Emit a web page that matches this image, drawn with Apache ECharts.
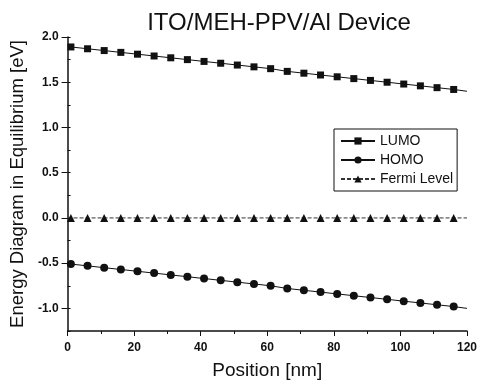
<!DOCTYPE html>
<html><head><meta charset="utf-8">
<script src="https://cdn.jsdelivr.net/npm/echarts@6/dist/echarts.min.js"></script>
<style>html,body{margin:0;padding:0;background:#fff}#c{width:480px;height:385px}</style>
</head><body><div id="c"></div>
<script>
// Positions of the markers [nm]
const positions = [1,6,11,16,21,26,31,36,41,46,51,56,61,66,71,76,81,86,91,96,101,106,111,116];
const lumo = [1.89,1.87,1.85,1.83,1.81,1.79,1.77,1.75,1.73,1.71,1.69,1.67,1.65,1.62,1.60,1.58,1.56,1.54,1.52,1.50,1.48,1.46,1.44,1.42];
const homo = [-0.51,-0.53,-0.55,-0.57,-0.59,-0.61,-0.63,-0.65,-0.67,-0.69,-0.71,-0.73,-0.75,-0.78,-0.80,-0.82,-0.84,-0.86,-0.88,-0.90,-0.92,-0.94,-0.96,-0.98];
const fermi = [0,0,0,0,0,0,0,0,0,0,0,0,0,0,0,0,0,0,0,0,0,0,0,0];
// line end points (no marker) at x = 0 and x = 120
const lumoEnds = [1.90, 1.40];
const homoEnds = [-0.50, -1.00];
const fermiEnds = [0, 0];
const xEnds = [0, 120];
const yLabels = [-1.0,-0.5,0.0,0.5,1.0,1.5,2.0];

function build(vals, ends){
  const d = [{value:[xEnds[0], ends[0]], symbol:'none'}];
  positions.forEach((x,i)=>d.push([x, vals[i]]));
  d.push({value:[xEnds[1], ends[1]], symbol:'none'});
  return d;
}
const font = 'Liberation Sans, Arial, sans-serif';
const chart = echarts.init(document.getElementById('c'), null, {renderer:'canvas'});
chart.setOption({
  animation:false,
  backgroundColor:'#fff',
  title:{text:'ITO/MEH-PPV/Al Device', left:274, textAlign:'center', top:6,
    textStyle:{fontFamily:font, fontSize:24, fontWeight:'normal', color:'#111'}},
  legend:{orient:'vertical', left:334, top:129, itemWidth:34, itemHeight:9, itemGap:5,
    padding:[5,4,5,6], borderColor:'#111', borderWidth:1,
    textStyle:{fontFamily:font, fontSize:14, color:'#111'},
    data:['LUMO','HOMO','Fermi Level']},
  grid:{left:64, right:11, top:37, bottom:50, containLabel:false},
  xAxis:{type:'value', min:0, max:120, interval:20,
    name:'Position [nm]', nameLocation:'middle', nameGap:30,
    nameTextStyle:{fontFamily:font, fontSize:19, color:'#111'},
    axisLine:{onZero:false, lineStyle:{color:'#111', width:1.5}},
    axisTick:{inside:false, length:5, lineStyle:{color:'#111'}},
    minorTick:{show:true, splitNumber:2, length:3, lineStyle:{color:'#111'}},
    axisLabel:{fontFamily:font, fontSize:12, fontWeight:'bold', color:'#111', margin:11},
    splitLine:{show:false}},
  yAxis:[{type:'value', min:-1.25, max:2.0,
    name:'Energy Diagram in Equilibrium [eV]', nameLocation:'middle', nameGap:40,
    nameTextStyle:{fontFamily:font, fontSize:18.5, color:'#111'},
    axisLine:{onZero:false, lineStyle:{color:'#111', width:1.5}},
    axisTick:{inside:false, length:6, customValues:yLabels, lineStyle:{color:'#111'}},
    axisLabel:{fontFamily:font, fontSize:12, fontWeight:'bold', color:'#111', margin:9,
      customValues:yLabels, formatter:v=>v.toFixed(1)},
    splitLine:{show:false}},
   {type:'value', min:-1.25, max:2.0, interval:0.25, position:'left',
    axisLine:{show:false}, axisLabel:{show:false}, splitLine:{show:false},
    axisTick:{inside:true, length:3, lineStyle:{color:'#111'}}}],
  series:[
    {name:'LUMO', type:'line', data:build(lumo, lumoEnds), symbol:'rect', symbolSize:7,
      lineStyle:{color:'#111', width:1}, itemStyle:{color:'#111'}},
    {name:'HOMO', type:'line', data:build(homo, homoEnds), symbol:'circle', symbolSize:8,
      lineStyle:{color:'#111', width:1}, itemStyle:{color:'#111'}},
    {name:'Fermi Level', type:'line', data:build(fermi, fermiEnds), symbol:'triangle', symbolSize:8,
      lineStyle:{color:'#333', width:1, type:[4,2]}, itemStyle:{color:'#111'}}
  ]
});
</script></body></html>
